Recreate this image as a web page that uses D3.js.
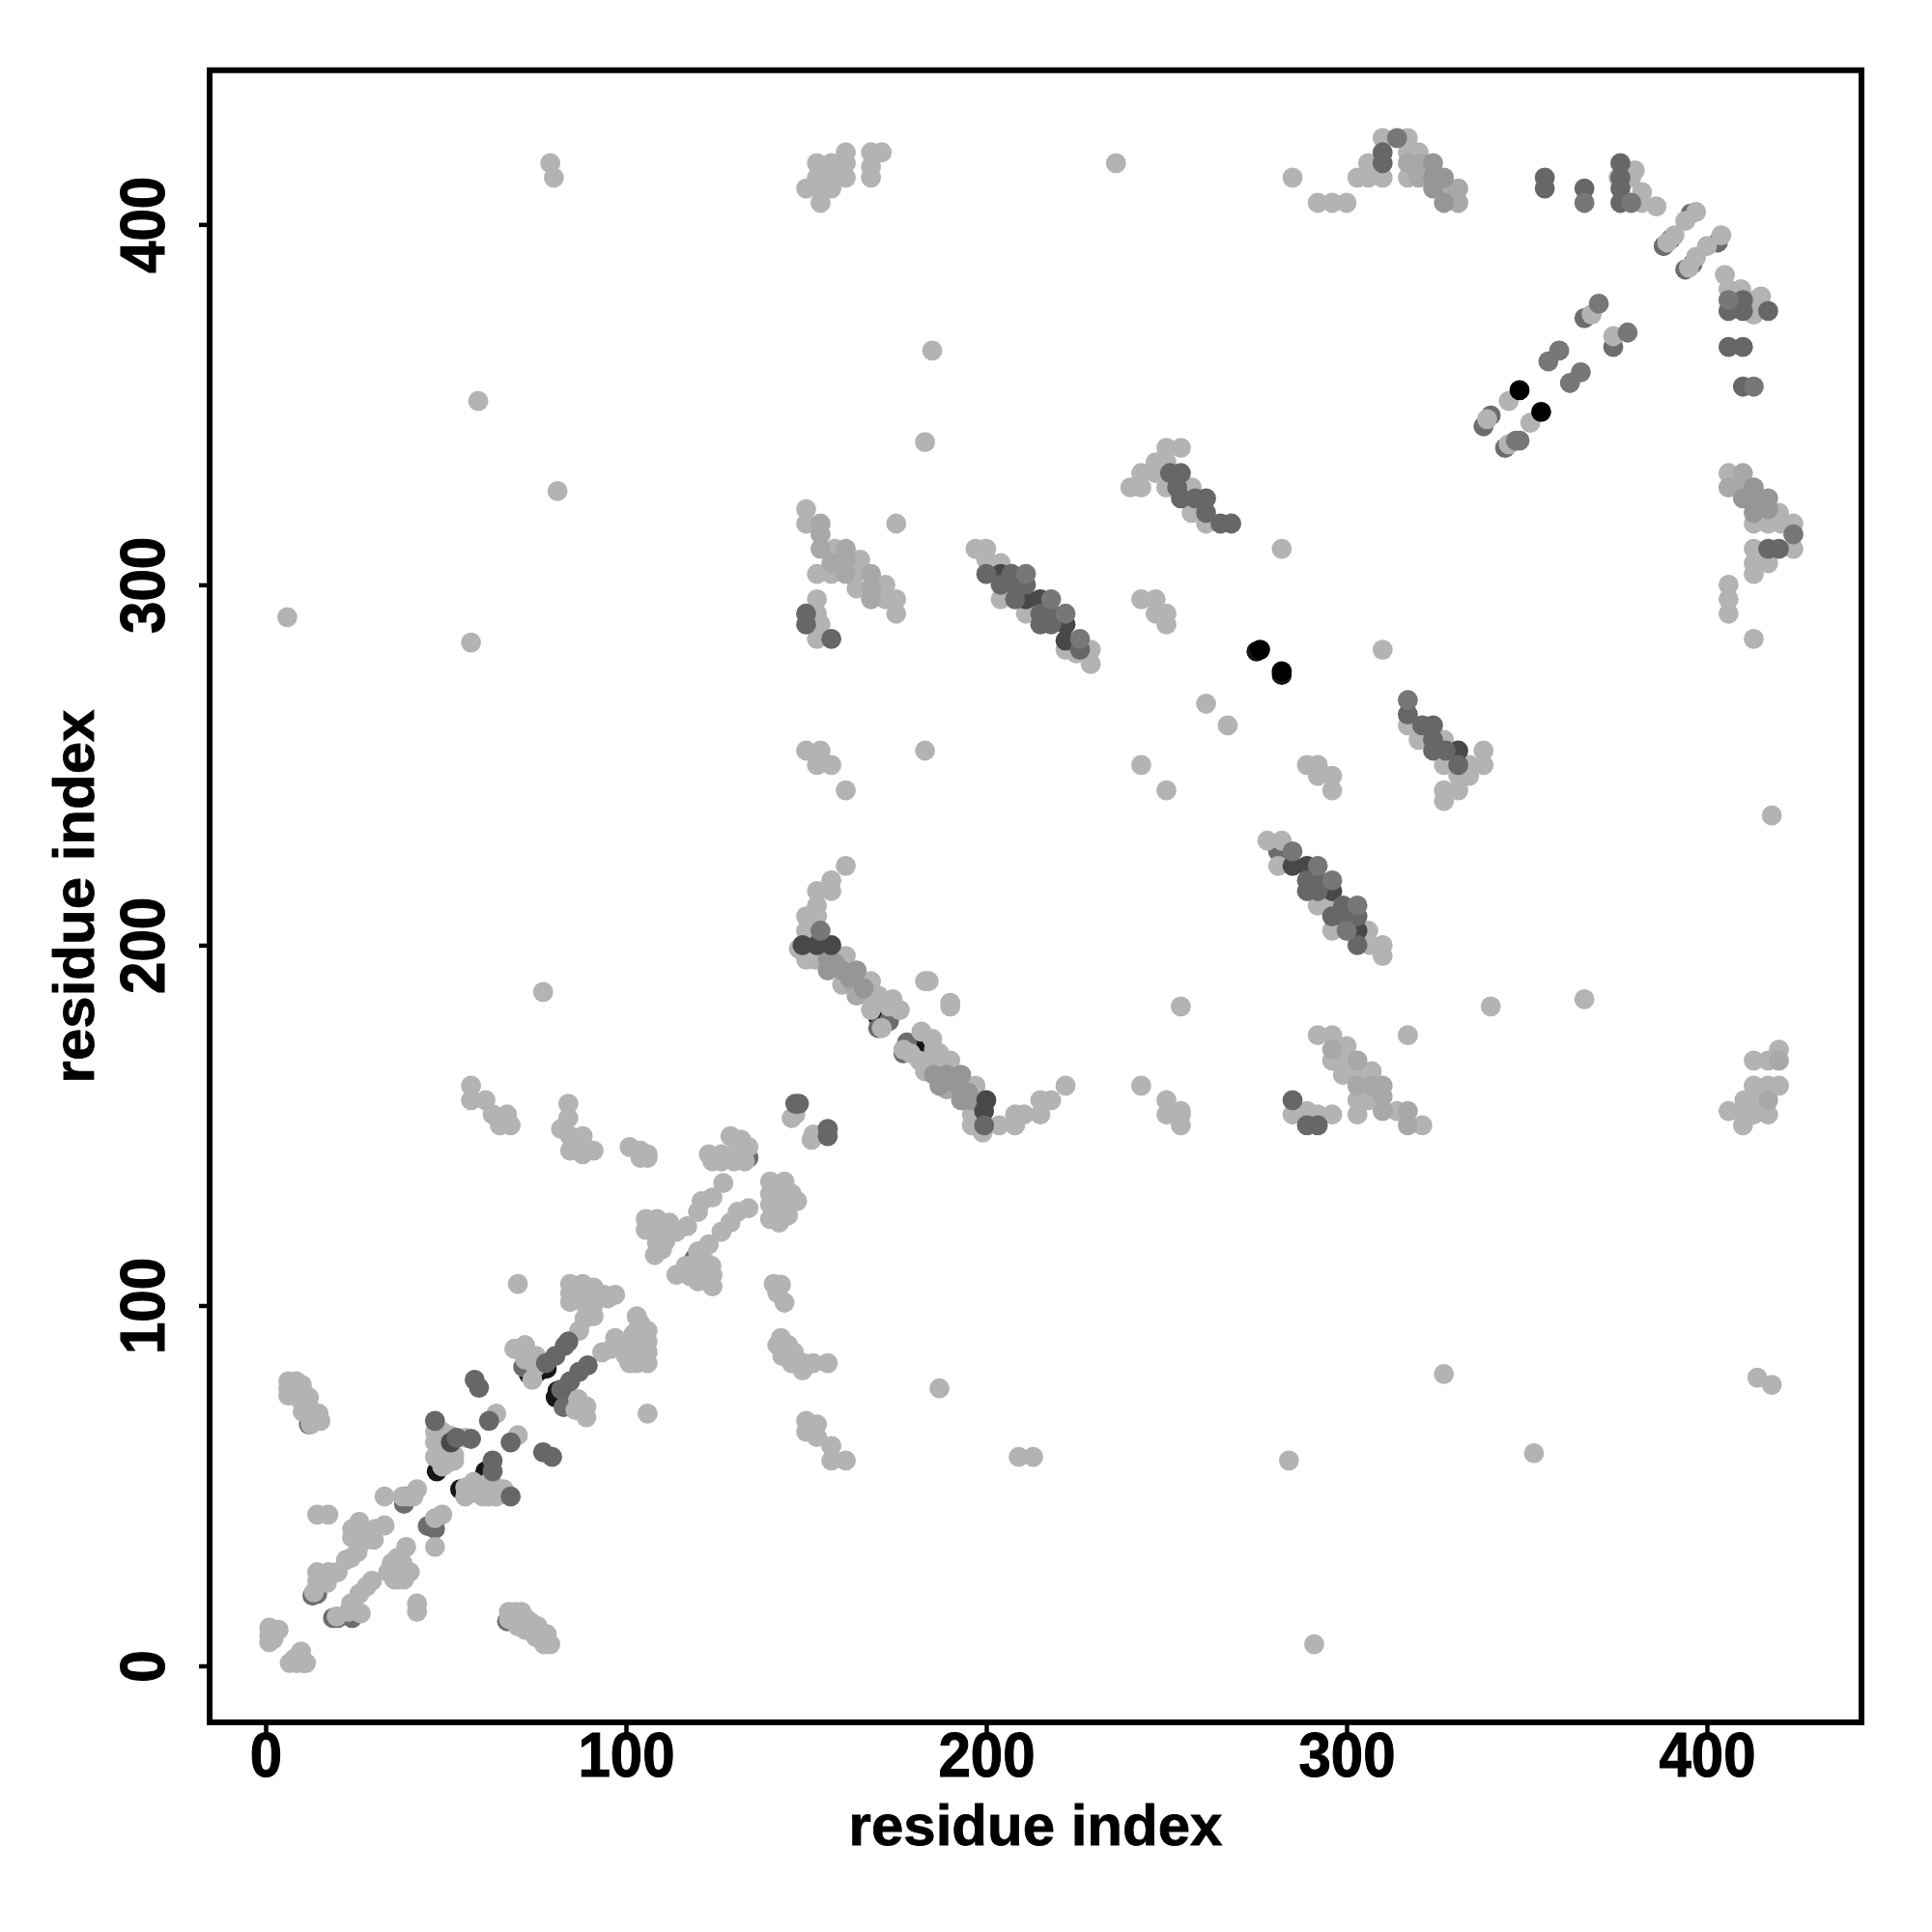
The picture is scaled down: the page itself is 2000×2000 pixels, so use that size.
<!DOCTYPE html>
<html><head><meta charset="utf-8">
<script src="https://cdnjs.cloudflare.com/ajax/libs/d3/7.8.5/d3.min.js"></script>
<style>html,body{margin:0;background:#fff}svg{display:block}</style>
</head><body><svg id="c" width="2000" height="2000"></svg>
<script>
const tickValues = [0,100,200,300,400];
const axisTitle = "residue index";

// contacts as [residue i, residue j], listed by grey class, painted in this order
const contactsUnderBlack = [[73,81],[75.5,81.5],[78,82.5],[81,76.3],[80.5,74.5],[83,75],[48.3,57],[51.5,62.5],[47.5,54],[60.3,52],[61,54],[57,49],[54,49],[171,182],[181,172],[178,171],[170,180],[275,281.5],[282,275]];
const contactsUnderDark = [[12,67],[67,12.4],[13,19.5],[14.3,20],[18.7,13.3],[20,13.3],[24,13.3],[38.4,45],[38.9,47],[45,38.8],[47,38],[71.5,83],[74,81],[82.7,71.8],[85,74],[134,141],[131.5,141],[111,121],[119,113],[141,133.5],[170,177],[177,170],[178,173],[173,179],[296,209],[281,226],[226,282],[388,394],[390,396],[395.5,403],[403,395],[394,387.5],[396,389],[338,344],[340,347],[344,338],[366,374],[374,366],[413,376]];
const contactsLight = [
[1,10.6],[3.6,10],[1,8.4],[2.2,7.5],[1,6.6],[9.8,4],[8,2],[6.7,0.8],[10.3,0.8],[8.5,0.8],[11.2,0.8],
[6.3,79],[8.5,79],[6.3,77],[8.5,77],[6.3,75],[10.3,76.3],[12,74.5],[9.8,73.6],[14.7,70],[12,72],[10.3,70.5],[15.2,68],[12.5,67],[13,68.7],[8,75],[11,72],[13,70],[10,78],
[67.5,15],[69.3,15],[71,15],[67.5,13],[70,13],[73.7,12],[72,10],[74.6,9],[76.4,7.5],[79,6],[77.3,6],[75.5,11],[78,8.8],[75,8],[72.4,13],[70,11],[73,10],
[14.3,42],[17.4,42],[26,40],[24,38],[26.4,38],[33,39],[30.4,38],[24,35.6],[28,35.6],[30,35],[26.4,34],[23.7,30],[22.3,29.4],[25.5,31.6],
[39,33],[36.6,30],[35,28.5],[38,28.5],[40,26],[34,26],[37,24],[35.7,24],[38.4,24],[29.5,23.6],[28,22],
[14.3,26],[17.4,26],[20,26],[14.3,23.6],[17,23],[13.4,20.4],[26,20],[23.7,17.3],[26.4,14.6],[23,15],[19.7,13.7],[42,17.3],[42,15],
[33,47],[38,47],[40,47],[42,49],[41,47],[49,42],[47,41],[47,33],
[47,65],[47,62],[49,65],[51.4,63.8],[55.4,63.3],[49,62],[49,58.4],[52.3,58.4],[49,55.3],[52.3,57],[50,60],[47,58],[50,56],
[55.4,49.5],[57.7,51],[55.4,47],[60.3,47],[64,49.5],[64,47],[61.7,47],[59.4,49.5],[58,48],[62,51],[66,49],
[69,88],[72,89],[75,86],[72,85],[75,83],[74,79.4],[86.7,74],[89,72],[89,69],[86,71],[64,70],[70,64],[106,70],
[84.5,106],[88,106],[91,105],[84.5,103.5],[84.5,101],[88,103.5],[88,101],[92,101.7],[97,103],[94,103],[90.7,99],[88.5,96.4],[87,93],[91,97],[86,105],[90,103],[86,102],[95,102],
[103,97],[103,93],[106,90],[100.5,90],[103,90],[97,91],[93.4,87],[96,88],[101,88],[106,87],[101,84],[106,84],[103,84],[70,106],[104,95],[106,93],[100,86],[104,87],[102,92],[105,90],
[127,134],[124,130],[121,129],[120,126],[117,122],[113,121],[134,127],[131,126],[129,123],[126.5,120.5],[123,117],[120,115],
[105.5,124],[108.6,124],[112,123],[105.5,121],[108.6,120.5],[114,120.5],[108.6,117.4],[111,118],[108,114],[110,115.6],
[114,108.5],[116.6,111],[119,110.7],[120,113],[123.7,111],[120,106.7],[124,108.5],[124,105.3],[120.6,109],[122,108],[118,108],[122,112],
[140,134.4],[144,134.4],[140,131],[144.3,131.7],[147.5,129],[140,128],[144,128],[140,124],[142.5,123],[142,130],[142,126],[145,125],[146,131],
[141,106],[143,105.8],[142,103.5],[144,100.8],[143,91],[142,89],[145,89],[143.4,86],[146.6,87],[146,84],[149,82],[149.3,84],[152,84],[156,84],
[150,68],[153,67],[150,65],[153,63.5],[157,61],[157,57],[161,57],
[57,161],[57,157],[61,157],[63,153],[67,153],[65,150],[68,150],[84,156],[84,152],[82,149],[84.5,147],[88,147],[84.5,143],[88,142],[91,143],
[101,144],[104,143],[106,142],[104,141],[106,141],[129,147],[132,146],[123,142],[126.5,142],[130,142],[124,140],[126.5,140],[130,140],[133,140],[134,144],[132,143],
[146,152],[147,153],[151.5,146],[152,147.5],
[161,222],[157,218],[157,215],[153,215],[153,211],[150,208],[153,208],[150,204],[148,199],[150,196],[152.5,196],[161,197],[160,189],[168,190],
[167,186],[170,186],[174,185],[176,182],[168,182],[171,177],[182,176],[185,174],[185.5,171],[181.5,168],[177,171],[185,167],[190,168],[197,161],[196,153],[196,150],[199,148],[173,183],[179,170],[187,170],[183,165],
[203.6,150],[208,153],[210.5,153],[208,150],[215,157],[218,157],[215,153],[222,161],[183,190],[184,190],[190,184],[190,183],[254,183],[243,161],[250,157],[250,153],[254,154],[254,153],[254,150],
[77,187],[187,77],[209,58],[213,58],[284,57],[327,81],[352,59],[291,6],[414,80],[418,78],[366,185],[340,183],[418,236],
[59,351],[185,365],[183,339.6],[81,326],[6,291],[57,284],[175,317],[79,417],[80,413],
[150,321],[150,317],[158,310],[153,303],[157,303],[165,307],[165,304],[164,299],[172,300],[153,296],[153,292],[154,289],[153,285],[172,296],[175,296],[175,292],
[150,254],[154,254],[153,250],[157,250],[161,243],[183,254],
[197,310],[200,310],[200,307],[204,306],[204,296],[212,296],[211,292],[222,282],[225,281],[229,282],[229,278],
[250,338],[254,338],[247,334],[250,334],[243,331],[247,331],[240,327],[243,327],[250,327],[257,327],[257,320],[261,317],
[243,296],[247,296],[247,292],[250,292],[250,289],[282,310],[261,267],[267,261],[243,250],[250,243],[310,282],[289,250],[292,250],[292,247],[296,247],[296,243],
[317,261],[320,257],[327,257],[327,250],[334,250],[338,254],[338,250],[331,247],[334,247],[327,243],[331,243],[327,240],
[278,229],[282,229],[281,222],[292,211],[296,211],[296,204],[306,204],[306.5,200],[310,200],[310,197],
[292,175],[296,175],[300,172],[296,168],[300,168],[299,164],[304,165],[307,165],[303,157],[306,157],[303,153],[321,150],[314,154],[317,175],
[285,153],[289,154],[292,153],[296,153],[420,171],[413,168],[417,168],[413,161],[417,161],[420,161],[410.4,157],[413,157],[406,154],[410,153],[413,153],[417,153],[410,150],
[153,417],[157,417],[161,420],[161,417],[161,413],[153,413],[157,413],[150,410],[154,410],[157,410],[154,406],[168,420],[171,420],[168,416],[168,413],[236,417],
[285,413],[292,406],[296,406],[300,406],[303,413],[306,413],[310,413],[306,417],[310,424],[317,424],[317,420],[320,420],[317,413],
[375.5,413],[380,415],[379,413],[382,409],[382,406],[386,405],[397,403.5],[394,401],[391,397],[389,395],[404,397],[400,394],[397,391],[395,388],
[405,386],[406,382],[409.5,382],[413.5,379],[415,380],[413,375],[345,351],[351,345],[339,346],[345,339],[368,375],[374,369],
[406,331],[413,317],[420,320],[417,317],[420.6,317],[424,317],[424,310],[413,310],[413,306],[417,306],[413,303],[406,300],[406,296],[406,292],[413,285]];
const contactsPale = [[154,317],[154,314],[154,310],[161,310],[157,306],[161,307],[161,303],[168,303],[168,299],[168,296],[296,171],[303,168],[303,161],[307,161],[310,161],[310,158],[310,154],[317,154],[317,150],[417,157],[420,168],[164,186],[163,189],[189,160],[317,417],[321,417],[320,413],[328,410],[331,410],[331,406],[406,327],[410,331],[410,327]];
const contactsMid = [[156,196],[156,193],[160,193],[164,193],[158,195],[162,191],[166,188],[185.5,164],[189,164],[193,164],[193,160],[193,157],[196,157],[187,161],[191,162],[195,159],[324,417],[324,413],[327,413],[324,410],[327,406],[410,324],[413,327],[413,324],[417,324],[413,320],[417,321]];
const contactsDarkest = [[51.4,62],[149,200],[153,200],[157,200],[199.4,154],[200,157],[204,303],[211,296],[215,296],[222,289],[222,284.5],[285,222],[289,222],[296,215],[303,204],[331,254]];
const contactsDark = [[63,57],[53,63.3],[57,63],[83,88.8],[84,90],[80.4,86],[77.8,84],[89.4,83.4],[87,81.6],[84.5,79],[82,76.7],[58,79.4],[59.2,77.2],[62,68],[68,62],[77,59.3],[79.5,58],[47,68],[63,54],[68,47],
[147,156],[148,156],[156,149],[156,147],[150,292],[150,289],[157,285],[199.4,150],[200,303],[207,303],[204,300],[208,300],[211,300],[208,296],[215,292],[218,292],[215,289],[218,289],[226,282],
[251,331],[254,331],[253,327],[254,324],[258,324],[261,324],[261,320],[265,317],[268,317],
[317,264],[321,261],[324,261],[324,257],[324,254],[327.5,254],[331,250],[289,218],[292,218],[289,215],[292,215],[296,208],[299,211],[299,208],[303,208],[303,200],[285,157],[289,150],[292,150],
[310,420],[310,417],[355,413],[355,410],[366,410],[376,417],[376,413],[376,410],[376,406],[406,376],[410,379],[410,376],[417,376],[406,366],[410,366],[410,355],[417,310],[420,310]];
const contactsSoftDark = [[154,204],[211,303],[218,296],[222,292],[226,285],[285,226],[292,222],[296,218],[303,211],[300,204],[317,268],[314,424],[366,406],[379,406],[406,379],[413,355],[424,314],[348,340],[347,340],[359,365],[356,362],[365,359],[362,356],[370,378],[378,370]];
const contactsBlack = [[348,354],[354,348],[276,282],[282,276]];

const paintOrder = [
  [contactsUnderBlack,"#161616"],[contactsUnderDark,"#6c6c6c"],
  [contactsLight,"#b3b3b3"],[contactsPale,"#a8a8a8"],[contactsMid,"#969696"],
  [contactsDarkest,"#484848"],[contactsDark,"#676767"],[contactsSoftDark,"#777777"],
  [contactsBlack,"#000000"]
];

const svg = d3.select("#c");
const x = d3.scaleLinear().domain([-15.55,442.9]).range([217,1927]);
const y = d3.scaleLinear().domain([-15.68,442.8]).range([1783,72.7]);
const font = "'Liberation Sans',Arial,sans-serif";

paintOrder.forEach(([pts,fill])=>{
  svg.append("g").selectAll("circle").data(pts).join("circle")
    .attr("cx",d=>x(d[0])).attr("cy",d=>y(d[1])).attr("r",10.4).attr("fill",fill);
});

svg.append("rect").attr("x",217).attr("y",72.7).attr("width",1710).attr("height",1710.3)
  .attr("fill","none").attr("stroke","#000").attr("stroke-width",6);

const gx = svg.append("g").attr("transform","translate(0,1783)")
  .call(d3.axisBottom(x).tickValues(tickValues).tickSize(11).tickFormat(d3.format("d")));
const gy = svg.append("g").attr("transform","translate(217,0)")
  .call(d3.axisLeft(y).tickValues(tickValues).tickSize(11).tickFormat(d3.format("d")));
[gx,gy].forEach(g=>{
  g.select(".domain").remove();
  g.selectAll(".tick line").attr("stroke","#000").attr("stroke-width",4.5);
  g.selectAll("text").attr("fill","#000").attr("stroke","#000").attr("stroke-width",1).style("font-family",font).style("font-weight","bold").style("font-size","60px");
});
gx.selectAll("text").attr("y",null).attr("dy",null).attr("transform","translate(0,56) scale(1,1.07)").attr("text-anchor","middle").attr("dominant-baseline","auto");
gy.selectAll("text").attr("x",null).attr("dy",null).attr("text-anchor","middle").attr("transform","translate(-47,0) rotate(-90) scale(1,1.07)");

svg.append("text").attr("x",1072).attr("y",1910).attr("text-anchor","middle").attr("stroke","#000").attr("stroke-width",0.8)
  .style("font-family",font).style("font-weight","bold").style("font-size","60px").text(axisTitle);
svg.append("text").attr("transform","translate(97,928) rotate(-90)").attr("text-anchor","middle").attr("stroke","#000").attr("stroke-width",0.8)
  .style("font-family",font).style("font-weight","bold").style("font-size","60px").text(axisTitle);
</script></body></html>
